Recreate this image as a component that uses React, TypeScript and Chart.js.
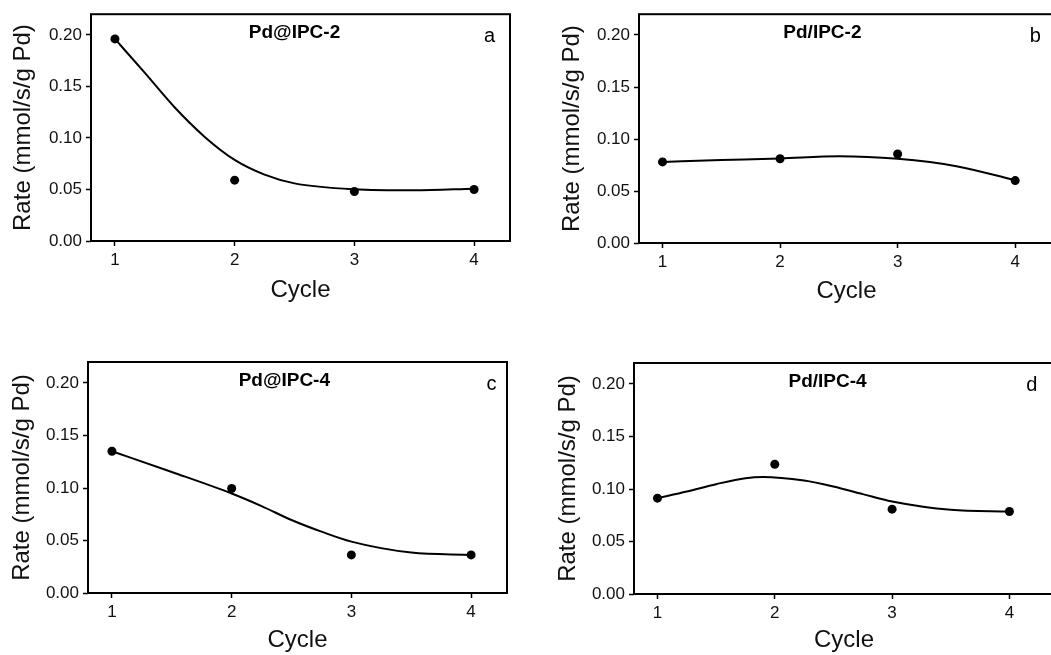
import React, { useEffect, useRef } from "react";
import { Chart, registerables } from "chart.js";
Chart.register(...registerables);

// ---- data ----
const cycles = [1, 2, 3, 4];
const xTickValues = [1, 2, 3, 4];
const yTickValues = [0, 0.05, 0.1, 0.15, 0.2];

const rateA = [0.196, 0.059, 0.048, 0.05];
const rateB = [0.078, 0.081, 0.0856, 0.06];
const rateC = [0.135, 0.0995, 0.0363, 0.0363];
const rateD = [0.0913, 0.1236, 0.0808, 0.0786];

const fitXA = [1, 1.25, 1.5, 1.75, 2, 2.25, 2.5, 3, 3.5, 4];
const fitYA = [0.196, 0.163, 0.1295, 0.101, 0.0787, 0.0644, 0.0559, 0.0502, 0.0492, 0.0508];
const fitXB = [1, 1.5, 2, 2.5, 3, 3.5, 4];
const fitYB = [0.078, 0.0797, 0.0813, 0.0834, 0.0809, 0.0739, 0.0603];
const fitXC = [1, 1.5, 2, 2.25, 2.5, 2.75, 3, 3.5, 4];
const fitYC = [0.135, 0.1153, 0.0948, 0.0828, 0.0695, 0.0584, 0.0489, 0.0385, 0.0363];
const fitXD = [1, 1.25, 1.5, 1.75, 1.9, 2.25, 2.5, 2.75, 3, 3.5, 4];
const fitYD = [0.0913, 0.0976, 0.1046, 0.1103, 0.1115, 0.108, 0.1023, 0.0951, 0.0881, 0.0802, 0.0786];

const titles = ["Pd@IPC-2", "Pd/IPC-2", "Pd@IPC-4", "Pd/IPC-4"];
const letters = ["a", "b", "c", "d"];
const yAxisTitle = "Rate (mmol/s/g Pd)";
const xAxisTitle = "Cycle";

const FONT = '"Liberation Sans", Arial, sans-serif';

type PanelCfg = {
  canvas: { x: number; y: number; w: number; h: number };
  area: { l: number; t: number; r: number; b: number };
  xMax: number;
  yTitleX: number;
  xTitleY: number;
  titleX: number;
  letterX: number;
  rates: number[];
  fitX: number[];
  fitY: number[];
  title: string;
  letter: string;
};

const panels: PanelCfg[] = [
  {
    canvas: { x: 0, y: 0, w: 530, h: 322 },
    area: { l: 91, t: 10, r: 510, b: 241 },
    xMax: 4.3, yTitleX: 23, xTitleY: 290, titleX: 2.5, letterX: 4.13,
    rates: rateA, fitX: fitXA, fitY: fitYA, title: titles[0], letter: letters[0],
  },
  {
    canvas: { x: 525, y: 0, w: 540, h: 322 },
    area: { l: 639, t: 11, r: 1054, b: 243 },
    xMax: 4.33, yTitleX: 572, xTitleY: 291.7, titleX: 2.36, letterX: 4.17,
    rates: rateB, fitX: fitXB, fitY: fitYB, title: titles[1], letter: letters[1],
  },
  {
    canvas: { x: 0, y: 330, w: 530, h: 325 },
    area: { l: 88, t: 362, r: 507, b: 593 },
    xMax: 4.3, yTitleX: 22.5, xTitleY: 640, titleX: 2.44, letterX: 4.17,
    rates: rateC, fitX: fitXC, fitY: fitYC, title: titles[2], letter: letters[2],
  },
  {
    canvas: { x: 525, y: 330, w: 540, h: 325 },
    area: { l: 634, t: 363, r: 1054, b: 594 },
    xMax: 4.38, yTitleX: 568.7, xTitleY: 643, titleX: 2.45, letterX: 4.19,
    rates: rateD, fitX: fitXD, fitY: fitYD, title: titles[3], letter: letters[3],
  },
];

function Panel({ cfg }: { cfg: PanelCfg }) {
  const ref = useRef<HTMLCanvasElement>(null);
  useEffect(() => {
    if (!ref.current) return;
    const { canvas: c, area: a } = cfg;
    const titleLH = 24 * 1.2;
    const decor = {
      id: "panelDecor",
      afterDraw(chart: any) {
        const { ctx, chartArea: ca, scales } = chart;
        ctx.save();
        ctx.strokeStyle = "#000";
        ctx.lineWidth = 2;
        ctx.strokeRect(ca.left, ca.top, ca.right - ca.left, ca.bottom - ca.top);
        ctx.fillStyle = "#000";
        ctx.textBaseline = "alphabetic";
        ctx.textAlign = "center";
        ctx.font = `bold 19px ${FONT}`;
        ctx.fillText(cfg.title, scales.x.getPixelForValue(cfg.titleX), ca.top + 24);
        ctx.font = `20px ${FONT}`;
        ctx.fillText(cfg.letter, scales.x.getPixelForValue(cfg.letterX), ca.top + 28);
        ctx.restore();
      },
    };
    const chart = new Chart(ref.current, {
      type: "scatter",
      data: {
        datasets: [
          {
            type: "scatter",
            data: cycles.map((x, i) => ({ x, y: cfg.rates[i] })),
            backgroundColor: "#000",
            borderColor: "#000",
            pointRadius: 4.5,
            borderWidth: 0,
          },
          {
            type: "line",
            data: cfg.fitX.map((x, i) => ({ x, y: cfg.fitY[i] })),
            borderColor: "#000",
            borderWidth: 2,
            pointRadius: 0,
            fill: false,
            showLine: true,
            cubicInterpolationMode: "monotone",
          } as any,
        ],
      },
      options: {
        responsive: false,
        animation: false,
        devicePixelRatio: 1,
        layout: {
          padding: { top: a.t - c.y, right: c.x + c.w - a.r, left: 0, bottom: 0 },
        },
        plugins: { legend: { display: false }, tooltip: { enabled: false }, title: { display: false } },
        scales: {
          x: {
            type: "linear",
            min: 0.8,
            max: cfg.xMax,
            afterBuildTicks: (s: any) => {
              s.ticks = xTickValues.map((v) => ({ value: v }));
            },
            afterFit: (s: any) => {
              s.height = c.y + c.h - a.b;
            },
            border: { display: false },
            grid: { drawOnChartArea: false, drawTicks: true, tickLength: 5, tickColor: "#000", tickWidth: 1.5 },
            ticks: {
              color: "#111",
              padding: 4,
              font: { family: FONT, size: 17 },
              maxRotation: 0,
              callback: (v: any) => String(v),
            },
            title: {
              display: true,
              text: xAxisTitle,
              color: "#111",
              font: { family: FONT, size: 24 },
              padding: { top: 0, bottom: Math.max(0, c.y + c.h - cfg.xTitleY - titleLH / 2) },
            },
          },
          y: {
            type: "linear",
            min: 0,
            max: 0.22,
            afterBuildTicks: (s: any) => {
              s.ticks = yTickValues.map((v) => ({ value: v }));
            },
            afterFit: (s: any) => {
              s.width = a.l - c.x;
            },
            border: { display: false },
            grid: { drawOnChartArea: false, drawTicks: true, tickLength: 5, tickColor: "#000", tickWidth: 1.5 },
            ticks: {
              color: "#111",
              padding: 4,
              font: { family: FONT, size: 17 },
              callback: (v: any) => Number(v).toFixed(2),
            },
            title: {
              display: true,
              text: yAxisTitle,
              color: "#111",
              font: { family: FONT, size: 24 },
              padding: { top: cfg.yTitleX - c.x - titleLH / 2, bottom: 0 },
            },
          },
        },
      },
      plugins: [decor],
    });
    return () => chart.destroy();
  }, [cfg]);
  return (
    <canvas
      ref={ref}
      width={cfg.canvas.w}
      height={cfg.canvas.h}
      style={{ position: "absolute", left: cfg.canvas.x, top: cfg.canvas.y, width: cfg.canvas.w, height: cfg.canvas.h }}
    />
  );
}

export default function App() {
  return (
    <div
      style={{
        position: "absolute",
        left: 0,
        top: 0,
        width: 1051,
        height: 655,
        overflow: "hidden",
        background: "#fff",
      }}
    >
      {panels.map((p, i) => (
        <Panel key={i} cfg={p} />
      ))}
    </div>
  );
}
